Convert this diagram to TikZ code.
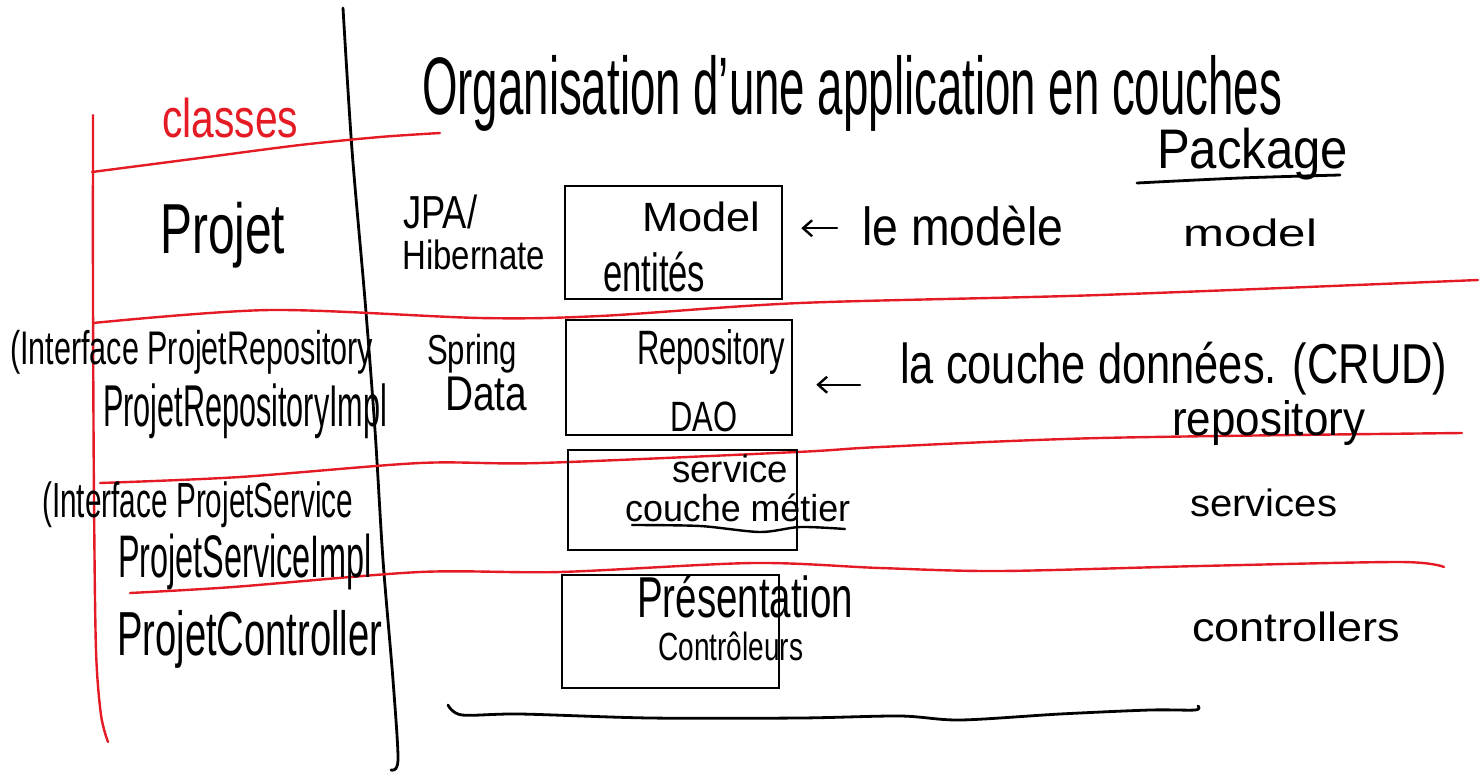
\documentclass[tikz,border=0pt]{standalone}
\usepackage{fontspec}
\setmainfont{Liberation Sans}
\usepackage{graphicx}
\usetikzlibrary{arrows.meta}
\definecolor{hred}{RGB}{228,27,36}
\newcommand\fitwh[3]{\resizebox*{#1pt}{#2pt}{#3}}
\tikzset{
  hand/.style={line width=2.6pt, line cap=round, line join=round},
  redline/.style={hand, draw=hred, line width=2.4pt},
  blackline/.style={hand, draw=black, line width=2.8pt},
  layerbox/.style={draw=black, line width=2.6pt, inner sep=0pt},
  lbl/.style={anchor=north west, inner sep=0pt, text=black},
  redlbl/.style={lbl, text=hred},
  harrow/.style={hand, -{Straight Barb[length=9pt,width=16pt]}, line width=2.4pt}
}
\begin{document}
\begin{tikzpicture}[x=1pt,y=-1pt]
\useasboundingbox (0,0) rectangle (1484,772);
% structural strokes
\draw[blackline] plot[smooth] coordinates {(343,8) (352,150) (365,300) (375,430) (383,560) (393,680) (398,760) (391,770)};
\draw[redline] plot[smooth] coordinates {(93,115) (93,300) (94,500) (96,650) (101,715) (108,742)};
\draw[redline] plot[smooth] coordinates {(92,172) (200,158) (300,145) (380,137) (440,133)};
\draw[redline] plot[smooth] coordinates {(93,323) (270,310) (480,318) (600,316) (800,303) (1100,295) (1478,280)};
\draw[redline] plot[smooth] coordinates {(100,483) (240,477) (420,463) (540,463) (797,452) (880,447) (1100,438) (1462,433)};
\draw[redline] plot[smooth] coordinates {(130,593) (233,587) (420,572) (560,572) (753,563) (880,568) (1000,571) (1200,566) (1400,562) (1444,567)};
\draw[blackline] plot[smooth] coordinates {(448,705) (462,715) (520,714) (650,718) (800,718) (900,716) (960,720) (1060,714) (1150,710) (1195,710) (1198,706)};
\draw[blackline] plot[smooth] coordinates {(1137,183) (1240,178) (1340,175)};
% title and headers
\node[lbl] (title) at (422,55) {\fitwh{860}{76}{Organisation d'une application en couches}};
\node[redlbl] (classes) at (162,98) {\fitwh{136}{40}{classes}};
\node[lbl] (package) at (1157,128) {\fitwh{191}{52}{Package}};
% layer boxes
\node[layerbox, minimum width=217pt, minimum height=113pt] (model) at (673.5,242.5) {};
\node[layerbox, minimum width=226pt, minimum height=115pt] (repo) at (679,377.5) {};
\node[layerbox, minimum width=229pt, minimum height=100pt] (serv) at (682.5,500) {};
\node[layerbox, minimum width=217pt, minimum height=113pt] (pres) at (670.5,631.5) {};
% box texts
\node[lbl] (tmodel) at (642,202) {\fitwh{118}{30}{Model}};
\node[lbl] (tentites) at (603,252) {\fitwh{102}{40}{entités}};
\node[lbl] (trepo) at (637,329) {\fitwh{148}{45}{Repository}};
\node[lbl] (tdao) at (670,402) {\fitwh{67}{30}{DAO}};
\node[lbl] (tserv) at (672,455) {\fitwh{116}{28}{service}};
\node[lbl] (tmetier) at (625,494) {\fitwh{225}{28}{couche métier}};
\draw[blackline, line width=2.4pt] plot[smooth] coordinates {(632,525) (700,526) (760,532) (800,527) (845,529)};
\node[lbl] (tpres) at (637,575) {\fitwh{216}{43}{Présentation}};
\node[lbl] (tctrl) at (658,632) {\fitwh{145}{29}{Contrôleurs}};
% technologies
\node[lbl] (jpa) at (403,195) {\fitwh{74}{34}{JPA/}};
\node[lbl] (hib) at (402,240) {\fitwh{143}{30}{Hibernate}};
\node[lbl] (spring) at (427,334) {\fitwh{90}{39}{Spring}};
\node[lbl] (data) at (445,377) {\fitwh{82}{34}{Data}};
% class column
\node[lbl] (projet) at (160,202) {\fitwh{125}{66}{Projet}};
\node[lbl] (irepo) at (10,330) {\fitwh{363}{44}{(Interface ProjetRepository}};
\node[lbl] (repoimpl) at (103,384) {\fitwh{284}{55}{ProjetRepositoryImpl}};
\node[lbl] (iserv) at (42,482) {\fitwh{311}{46}{(Interface ProjetService}};
\node[lbl] (servimpl) at (118,534) {\fitwh{254}{56}{ProjetServiceImpl}};
\node[lbl] (ctrl) at (117,610) {\fitwh{265}{58}{ProjetController}};
% package column
\node[lbl] (pmodel) at (1183,219) {\fitwh{134}{28}{model}};
\node[lbl] (prepo) at (1172,400) {\fitwh{193}{45}{repository}};
\node[lbl] (pserv) at (1190,489) {\fitwh{147}{28}{services}};
\node[lbl] (pctrl) at (1192,612) {\fitwh{208}{30}{controllers}};
% annotations with arrows
\node[lbl] (lemod) at (862,206) {\fitwh{201}{40}{le modèle}};
\node[lbl] (crud) at (900,342) {\fitwh{547}{53}{la couche données. (CRUD)}};
\draw[harrow, shorten <=25pt, shorten >=18pt] ([yshift=-2pt]lemod.west) -- ([yshift=-2pt]lemod.west -| model.east);
\draw[harrow, shorten <=40pt, shorten >=23pt] ([yshift=-16pt]crud.west) -- ([yshift=-16pt]crud.west -| repo.east);
\end{tikzpicture}
\end{document}
